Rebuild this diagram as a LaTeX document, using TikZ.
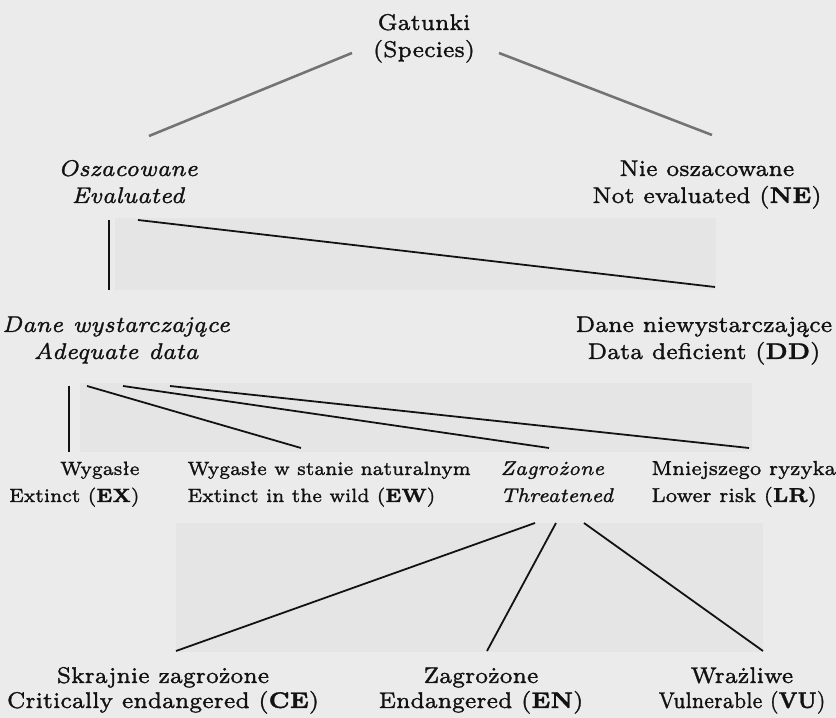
\documentclass[tikz,border=0pt]{standalone}
\usepackage{fontspec}
\usepackage{graphicx}
\setmainfont{lmroman7-regular.otf}[BoldFont=lmroman7-bold.otf, ItalicFont=lmroman7-italic.otf, FakeBold=1.3]
\definecolor{bgcol}{HTML}{EBEBEB}
\definecolor{patchcol}{HTML}{E5E5E5}
\definecolor{ink}{HTML}{121212}
\begin{document}
\begin{tikzpicture}[x=0.392pt,y=-0.392pt,
  lab/.style={inner sep=0pt, text=ink, font=\fontsize{8.9}{10.6}\selectfont},
  itlab/.style={lab, font=\fontsize{8.9}{10.6}\selectfont\itshape},
  midlab/.style={lab, font=\fontsize{7.9}{10.6}\selectfont},
  narrowlab/.style={lab, font=\fontsize{7.5}{10.6}\selectfont},
  miditlab/.style={lab, font=\fontsize{7.8}{10.6}\selectfont\itshape},
  lowlab/.style={lab, font=\fontsize{8.9}{9.8}\selectfont},
  conn/.style={line width=0.7pt, draw=ink},
  gconn/.style={line width=1pt, draw=black!55}]
\fill[bgcol] (0,0) rectangle (836,718);
\useasboundingbox (0,0) rectangle (836,718);
% faint scan patches
\fill[patchcol] (115,218) rectangle (716,290);
\fill[patchcol] (80,383) rectangle (752,452);
\fill[patchcol] (176,523) rectangle (763,652);

% labels (anchor base = baseline of the last line)
\node[lab, align=center, anchor=base] (sp) at (424,57) {Gatunki\\(Species)};
\node[itlab, align=center, anchor=base] (ev) at (128,203) {Oszacowane\\Evaluated};
\node[lab, align=center, anchor=base] (ne) at (707,203) {Nie oszacowane\\Not evaluated (\textbf{NE})};
\node[itlab, align=center, anchor=base] (ad) at (116,359) {Dane wystarczające\\Adequate data};
\node[lab, align=center, anchor=base] (dd) at (704,359) {Dane niewystarczające\\Data deficient (\textbf{DD})};
\node[narrowlab, align=right, anchor=base east] (ex) at (140,502) {Wygasłe\\Extinct (\textbf{EX})};
\node[narrowlab, align=left, anchor=base west] (ew) at (187,502) {Wygasłe w stanie naturalnym\\Extinct in the wild (\textbf{EW})};
\node[miditlab, align=left, anchor=base west] (th) at (500,502) {Zagrożone\\Threatened};
\node[midlab, align=left, anchor=base west] (lr) at (651,502) {Mniejszego ryzyka\\Lower risk (\textbf{LR})};
\node[lowlab, align=center, anchor=base] (ce) at (163,708) {Skrajnie zagrożone\\Critically endangered (\textbf{CE})};
\node[lowlab, align=center, anchor=base] (en) at (481,708) {Zagrożone\\Endangered (\textbf{EN})};
\node[lowlab, align=center, anchor=base] (vu) at (742,708) {Wrażliwe\\\scalebox{0.86}[1]{Vulnerable (\textbf{VU})}};

% connector end points
\coordinate (spL) at (352,53);  \coordinate (evT) at (149,136);
\coordinate (spR) at (499,53);  \coordinate (neT) at (712,135);
\coordinate (evA) at (109,220); \coordinate (adT) at (109,290);
\coordinate (evB) at (138,220); \coordinate (ddT) at (715,287);
\coordinate (adA) at (69,386);  \coordinate (exT) at (69,452);
\coordinate (adB) at (87,386);  \coordinate (ewT) at (301,448);
\coordinate (adC) at (123,386); \coordinate (thT) at (549,448);
\coordinate (adD) at (170,386); \coordinate (lrT) at (749,448);
\coordinate (thA) at (535,523); \coordinate (ceT) at (176,651);
\coordinate (thB) at (556,523); \coordinate (enT) at (487,651);
\coordinate (thC) at (584,523); \coordinate (vuT) at (763,651);

\draw[gconn] (spL) -- (evT);
\draw[gconn] (spR) -- (neT);
\draw[conn] (evA) -- (adT);
\draw[conn] (evB) -- (ddT);
\draw[conn] (adA) -- (exT);
\draw[conn] (adB) -- (ewT);
\draw[conn] (adC) -- (thT);
\draw[conn] (adD) -- (lrT);
\draw[conn] (thA) -- (ceT);
\draw[conn] (thB) -- (enT);
\draw[conn] (thC) -- (vuT);
\end{tikzpicture}
\end{document}
